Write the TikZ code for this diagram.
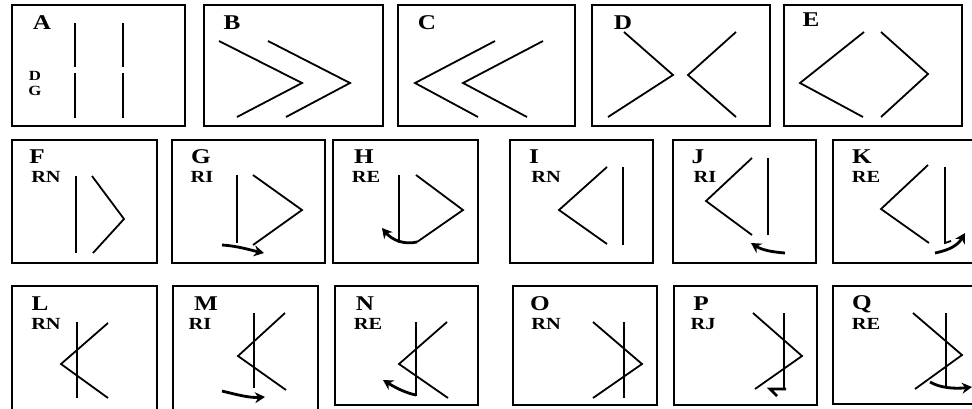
\documentclass[tikz,border=0pt]{standalone}
\usepackage{fontspec}
\setmainfont{Liberation Serif}
\usetikzlibrary{arrows.meta}
\tikzset{
  panel/.style={draw=black, line width=1.5pt},
  stroke/.style={draw=black, line width=1.8pt},
  turn/.style={draw=black, line width=2.8pt, -{Stealth[length=10pt,width=11pt]}},
  flick/.style={draw=black, line width=2.6pt},
  big/.style={inner sep=0pt, xscale=1.2, font=\fontsize{21}{21}\selectfont\bfseries},
  sub/.style={inner sep=0pt, xscale=1.2, font=\fontsize{17}{17}\selectfont\bfseries},
  tiny/.style={inner sep=0pt, xscale=1.2, font=\fontsize{14}{14}\selectfont\bfseries}
}
\begin{document}
\begin{tikzpicture}[x=1pt,y=-1pt]
\useasboundingbox (0,0) rectangle (972,408);
\fill[white] (0,0) rectangle (972,408);
\clip (0,0) rectangle (972,408);

% ---------- Row 1 ----------
\draw[panel] (12,5) rectangle (185,126);
\draw[panel] (204,5) rectangle (383,126);
\draw[panel] (398,5) rectangle (575,126);
\draw[panel] (592,5) rectangle (770,126);
\draw[panel] (784,5) rectangle (962,126);

\node[big] (lA) at (42,23) {A};
\node[big] (lB) at (232,23) {B};
\node[big] (lC) at (427,23) {C};
\node[big] (lD) at (623,23) {D};
\node[big] (lE) at (811,20) {E};
\node[tiny] (lAd) at (35,76) {D};
\node[tiny] (lAg) at (35,91) {G};

% A: two broken verticals
\draw[stroke] (75,23) -- (75,67);
\draw[stroke] (75,73) -- (75,118);
\draw[stroke] (123,23) -- (123,67);
\draw[stroke] (123,73) -- (123,118);

% B
\draw[stroke] (219,41) -- (302,83) -- (237,117);
\draw[stroke] (268,41) -- (350,83) -- (286,117);

% C
\draw[stroke] (495,41) -- (415,83) -- (478,117);
\draw[stroke] (543,41) -- (463,83) -- (527,117);

% D
\draw[stroke] (624,32) -- (673,75) -- (608,117);
\draw[stroke] (736,32) -- (688,75) -- (736,117);

% E
\draw[stroke] (864,32) -- (800,83) -- (863,117);
\draw[stroke] (881,32) -- (928,74) -- (881,117);

% ---------- Row 2 ----------
\draw[panel] (12,140) rectangle (157,263);
\draw[panel] (172,140) rectangle (325,263);
\draw[panel] (333,140) rectangle (478,263);
\draw[panel] (510,140) rectangle (653,263);
\draw[panel] (673,140) rectangle (816,263);
\draw[panel] (833,140) rectangle (990,263);

\node[big] (lF) at (37,157) {F};
\node[big] (lG) at (201,157) {G};
\node[big] (lH) at (364,157) {H};
\node[big] (lI) at (534,157) {I};
\node[big] (lJ) at (698,157) {J};
\node[big] (lK) at (862,157) {K};
\node[sub] (sF) at (46,177) {RN};
\node[sub] (sG) at (202,177) {RI};
\node[sub] (sH) at (366,177) {RE};
\node[sub] (sI) at (546,177) {RN};
\node[sub] (sJ) at (705,177) {RI};
\node[sub] (sK) at (866,177) {RE};

% F
\draw[stroke] (76,176) -- (76,253);
\draw[stroke] (92,176) -- (124,219) -- (93,253);
% G
\draw[stroke] (237,175) -- (237,243);
\draw[stroke] (253,175) -- (302,210) -- (253,245);
\draw[turn] (222,245) .. controls (238,246) and (250,250) .. (264,253);
% H
\draw[stroke] (399,175) -- (399,243);
\draw[stroke] (416,175) -- (463,210) -- (417,242);
\draw[turn] (417,242) .. controls (404,245) and (392,240) .. (382,228);
% I
\draw[stroke] (607,167) -- (559,210) -- (607,244);
\draw[stroke] (623,167) -- (623,245);
% J
\draw[stroke] (752,158) -- (706,201) -- (752,235);
\draw[stroke] (768,158) -- (768,235);
\draw[turn] (785,253) .. controls (772,252) and (762,250) .. (751,243);
% K
\draw[stroke] (928,165) -- (881,209) -- (929,243);
\draw[stroke] (945,167) -- (945,243) -- (951,241);
\draw[turn] (935,253) .. controls (950,250) and (958,245) .. (965,233);

% ---------- Row 3 ----------
\draw[panel] (12,420) -- (12,286) -- (157,286) -- (157,420);
\draw[panel] (173,420) -- (173,286) -- (318,286) -- (318,420);
\draw[panel] (335,286) rectangle (478,405);
\draw[panel] (513,286) rectangle (657,405);
\draw[panel] (674,286) rectangle (817,405);
\draw[panel] (833,286) rectangle (990,404);

\node[big] (lL) at (40,304) {L};
\node[big] (lM) at (206,304) {M};
\node[big] (lN) at (365,304) {N};
\node[big] (lO) at (540,304) {O};
\node[big] (lP) at (701,304) {P};
\node[big] (lQ) at (862,304) {Q};
\node[sub] (sL) at (46,324) {RN};
\node[sub] (sM) at (200,324) {RI};
\node[sub] (sN) at (368,324) {RE};
\node[sub] (sO) at (546,324) {RN};
\node[sub] (sP) at (703,324) {RJ};
\node[sub] (sQ) at (866,324) {RE};

% L
\draw[stroke] (77,322) -- (77,398);
\draw[stroke] (108,323) -- (61,364) -- (108,398);
% M
\draw[stroke] (254,313) -- (254,388);
\draw[stroke] (285,313) -- (238,356) -- (286,390);
\draw[turn] (222,391) .. controls (238,395) and (250,398) .. (265,397);
% N
\draw[stroke] (416,322) -- (416,396);
\draw[stroke] (447,322) -- (399,364) -- (448,398);
\draw[turn] (416,395) .. controls (406,393) and (396,388) .. (383,380);
% O
\draw[stroke] (593,322) -- (642,364) -- (593,398);
\draw[stroke] (624,322) -- (624,398);
% P
\draw[stroke] (753,313) -- (802,356) -- (755,389);
\draw[stroke] (784,313) -- (784,388);
\draw[flick] (786,389) -- (770,389) -- (777,396);
% Q
\draw[stroke] (913,313) -- (962,355) -- (915,389);
\draw[stroke] (946,313) -- (946,387);
\draw[turn] (930,382) .. controls (940,388) and (955,389) .. (972,387);
\end{tikzpicture}
\end{document}
